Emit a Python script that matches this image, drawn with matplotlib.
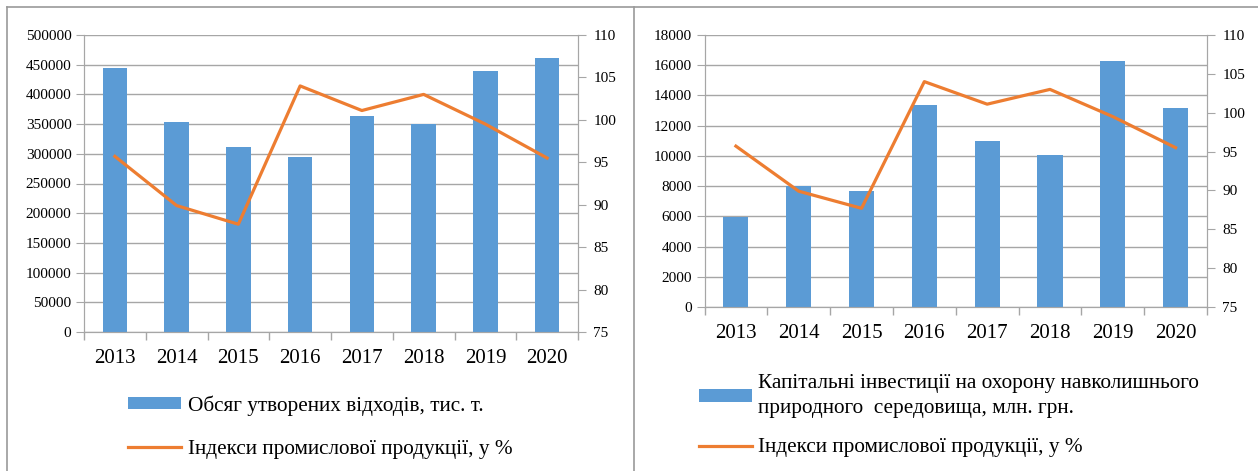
import numpy as np
import matplotlib.pyplot as plt
from matplotlib.lines import Line2D

plt.rcParams['font.family'] = ['Liberation Serif', 'DejaVu Serif']

years = ['2013', '2014', '2015', '2016', '2017', '2018', '2019', '2020']
waste = [444000, 353000, 312000, 295000, 364000, 350000, 439000, 461000]
invest = [5950, 8000, 7650, 13400, 11000, 10050, 16250, 13200]
index = [95.7, 89.9, 87.7, 104.0, 101.1, 103.0, 99.5, 95.5]

waste_label = 'Обсяг утворених відходів, тис. т.'
invest_label = 'Капітальні інвестиції на охорону навколишнього\nприродного  середовища, млн. грн.'
index_label = 'Індекси промислової продукції, у %'

bar_color = '#5B9BD5'
line_color = '#ED7D31'
grid_color = '#A6A6A6'

W, H = 1258, 471
fig = plt.figure(figsize=(W / 100, H / 100), dpi=100)


def box(x0, x1, top, bottom):
    return [x0 / W, 1 - bottom / H, (x1 - x0) / W, (bottom - top) / H]


def panel(rect, bars, ymax, ystep, bar_label, legend_xy, spacing):
    ax = fig.add_axes(rect)
    x = np.arange(len(years))
    b = ax.bar(x, bars, width=0.4, color=bar_color, zorder=3)
    ax.set_xlim(-0.5, len(years) - 0.5)
    ax.set_ylim(0, ymax)
    ax.set_yticks(np.arange(0, ymax + 1, ystep))
    ax.set_xticks(x)
    ax.set_xticklabels(years, fontsize=15)
    ax.set_xticks(np.arange(-0.5, len(years)), minor=True)
    ax.tick_params(axis='x', which='major', length=0, pad=12)
    ax.tick_params(axis='x', which='minor', length=6, color=grid_color, width=1)
    ax.tick_params(axis='y', length=6, color=grid_color, labelsize=11, pad=3)
    ax.grid(axis='y', color=grid_color, lw=1, zorder=0)
    ax.spines['top'].set_visible(False)
    for s in ['left', 'bottom', 'right']:
        ax.spines[s].set_color(grid_color)

    ax2 = ax.twinx()
    ln, = ax2.plot(x, index, color=line_color, lw=2.3, zorder=4)
    ax2.set_ylim(75, 110)
    ax2.set_yticks(np.arange(75, 111, 5))
    ax2.tick_params(axis='y', length=6, color=grid_color, labelsize=11, pad=5)
    ax2.spines['top'].set_visible(False)
    for s in ['left', 'bottom', 'right']:
        ax2.spines[s].set_color(grid_color)

    leg = fig.legend([b, ln], [bar_label, index_label], loc='upper left',
                     bbox_to_anchor=legend_xy, frameon=False, fontsize=15.3,
                     handlelength=2.5, handleheight=0.55, handletextpad=0.3,
                     labelspacing=spacing, borderpad=0, borderaxespad=0)
    for t in leg.get_texts():
        t.set_linespacing(1.45)
    return ax


panel(box(84, 578, 35, 332), waste, 500000, 50000, waste_label,
      (128 / W, 1 - 395 / H), 1.15)
panel(box(704.5, 1207, 35, 307), invest, 18000, 2000, invest_label,
      (699 / W, 1 - 374 / H), 0.95)

# frame lines around the two panels
border = '#9A9A9A'
fig.add_artist(Line2D([7 / W, 7 / W], [0, 1 - 7 / H], color=border, lw=1.2))
fig.add_artist(Line2D([7 / W, 1], [1 - 7 / H, 1 - 7 / H], color=border, lw=1.2))
fig.add_artist(Line2D([634 / W, 634 / W], [0, 1 - 7 / H], color=border, lw=1.2))

fig.savefig('out.png', dpi=100, facecolor='white')
